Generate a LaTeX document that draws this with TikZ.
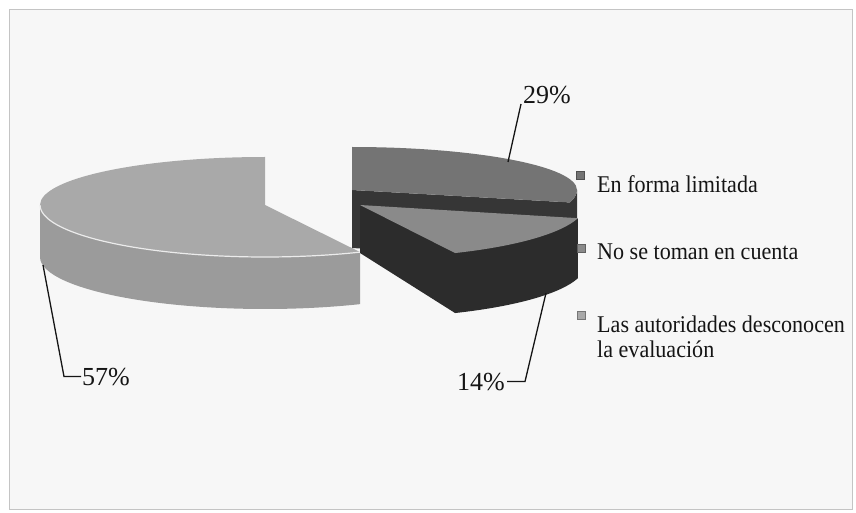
\documentclass[tikz,border=0pt]{standalone}
\usepackage{fontspec}
\setmainfont{Liberation Serif}
\newfontfamily\legfont[FakeStretch=0.92]{Liberation Serif}
\usepackage{tikz}
\usetikzlibrary{calc}
\definecolor{bgfill}{HTML}{F7F7F7}
\definecolor{framec}{HTML}{C4C4C4}
\definecolor{lighttop}{HTML}{A9A9A9}
\definecolor{lightside}{HTML}{9B9B9B}
\definecolor{midtop}{HTML}{747474}
\definecolor{lowtop}{HTML}{8A8A8A}
\definecolor{darkside}{HTML}{2C2C2C}
\definecolor{bandc}{HTML}{363636}
\definecolor{inkc}{HTML}{151515}
\tikzset{leader/.style={draw=inkc, line width=1.3pt}}
\tikzset{pct/.style={inner sep=0pt, text=inkc, font=\fontsize{26}{28}\selectfont}}
\tikzset{legtext/.style={inner sep=0pt, text=inkc, align=left,
   font=\legfont\fontsize{24}{24.5}\selectfont}}
\tikzset{legmark/.style={rectangle, minimum size=8pt, inner sep=0pt, draw=#1!70!black, fill=#1}}

\begin{document}
\begin{tikzpicture}[x=1pt,y=1pt]

    \useasboundingbox (0,0) rectangle (856,512);
    \fill[bgfill] (9,3) rectangle (852,503);
    \draw[framec, line width=0.8pt] (9,3) rectangle (852,503);

    % 57% piece
    \coordinate (cl) at (265,307);
    \fill[lightside] (40,307) arc[start angle=180, end angle=295, x radius=225, y radius=52]
        -- ++(0,-52) arc[start angle=295, end angle=180, x radius=225, y radius=52] -- cycle;
    \fill[lighttop] (265,355) arc[start angle=90, end angle=180, x radius=225, y radius=48]
        arc[start angle=180, end angle=295, x radius=225, y radius=52] -- (cl) -- cycle;
    \draw[white!80!lightside, line width=1.2pt] (40,307)
        arc[start angle=180, end angle=295, x radius=225, y radius=52];

    % 29% piece
    \coordinate (cr) at (352,322);
    \coordinate (e29) at ($(cr)+(-14.4:225 and 50)$);
    \fill[bandc] (cr) -- (e29) -- ++(0,-58) -- ($(cr)+(0,-58)$) -- cycle;
    \fill[bandc] (577,322) arc[start angle=0, end angle=-14.4, x radius=225, y radius=50]
        -- ++(0,-58) arc[start angle=-14.4, end angle=0, x radius=225, y radius=50] -- cycle;
    \fill[midtop] (352,365) arc[start angle=90, end angle=0, x radius=225, y radius=43]
        arc[start angle=0, end angle=-14.4, x radius=225, y radius=50] -- (cr) -- cycle;

    % 14% piece
    \coordinate (cs) at (360,307);
    \coordinate (e14) at ($(cs)+(-65:225 and 53)$);
    \fill[darkside] (cs) -- (e14) -- ++(0,-60) -- ($(cs)+(0,-48)$) -- cycle;
    \fill[darkside] (e14) arc[start angle=-65, end angle=-14.4, x radius=225, y radius=53]
        -- ++(0,-60) arc[start angle=-14.4, end angle=-65, x radius=225, y radius=53] -- cycle;
    \fill[lowtop] (cs) -- (e14) arc[start angle=-65, end angle=-14.4, x radius=225, y radius=53] -- cycle;

    % percent labels
    \node[pct, anchor=base west] (lbl29) at (523,408) {29\%};
    \node[pct, anchor=base west] (lbl57) at (82,127) {57\%};
    \node[pct, anchor=base east] (lbl14) at (505,122) {14\%};

    \coordinate (t29) at (508,350);
    \coordinate (t57) at (43,247);
    \coordinate (t14) at (546,219);
    \draw[leader] (t29) -- ([xshift=-2pt]lbl29.base west);
    \draw[leader] (t57) -- (64,0 |- lbl57.west) -- ([xshift=-1pt]lbl57.west);
    \draw[leader] (t14) -- (525,0 |- lbl14.east) -- ([xshift=2pt]lbl14.east);

    % legend
    \node[legmark=midtop] (mk1) at (580,337) {};
    \node[legmark=lowtop] (mk2) at (581,264) {};
    \node[legmark=lighttop] (mk3) at (581,197) {};
    \node[legtext, anchor=base west] (leg1) at (597,319) {En forma limitada};
    \node[legtext, anchor=base west] (leg2) at (597,252) {No se toman en cuenta};
    \node[legtext, anchor=north west] (leg3) at (597,196) {Las autoridades desconocen\\la evaluación};

\end{tikzpicture}
\end{document}
